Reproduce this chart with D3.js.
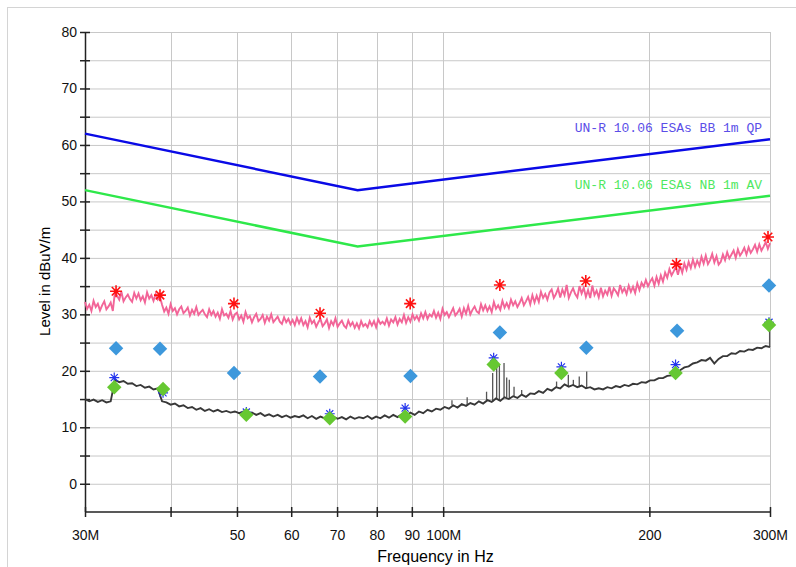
<!DOCTYPE html>
<meta charset="utf-8">

<style type="text/css">

    body {
        margin: 0;
        background: #fff;
        font-family: "Liberation Sans", Arial, sans-serif;
    }

    .grid line {
        stroke: #c8c8c8;
        stroke-width: 1;
    }

    .axis path.domain {
        stroke: #222;
        stroke-width: 1.5;
    }

    .axis line {
        stroke: #222;
        stroke-width: 1.5;
    }

    .axis text {
        font-size: 14px;
        fill: #111;
    }

    .limit-label {
        font-family: "Liberation Mono", "DejaVu Sans Mono", monospace;
        font-size: 13px;
    }

</style>

<body>
</body>

<script src="https://cdn.jsdelivr.net/npm/d3@7"></script>

<script>

// sweep 30M..300M, log spaced readings (MHz)
var sweepStart = 30,
    sweepStop = 300;

// peak trace (pink)
var peakTrace = [
    32.2, 31.0, 31.7, 30.6, 32.4, 31.3, 31.9, 30.7, 31.6, 32.3, 30.9, 31.4, 32.1, 30.6,
    34.0,
    33.3, 32.6, 34.0, 32.3, 33.0, 33.5, 32.7, 32.2, 33.8, 32.8, 33.7, 32.5, 33.2, 32.1, 33.9, 32.8, 33.4, 32.4, 33.6, 32.6, 33.1,
    31.7, 30.5, 31.2, 30.1, 31.8, 30.6, 31.1, 30.0, 30.9, 31.4, 30.2, 30.6, 31.2, 29.8, 30.8, 30.1, 31.3, 29.9,
    30.4, 30.8, 30.0, 29.5, 30.9, 29.9, 30.6, 29.6, 30.3, 29.2, 30.9, 29.8, 30.1, 29.4, 30.6, 29.1, 30.0,
    30.3, 29.1, 29.8, 28.7, 30.4, 29.3, 29.7, 28.6, 29.5, 30.1, 28.8, 29.2, 29.9, 28.5, 29.6,
    28.9, 30.0, 28.6, 29.1, 29.6, 28.7, 28.3, 29.5, 28.6, 29.2, 28.3, 29.0, 28.1, 29.4, 28.4,
    29.3, 28.1, 28.8, 27.7, 29.4, 28.4, 28.9, 27.8, 28.6, 29.2, 27.9, 28.4, 29.1, 27.6, 28.8, 28.1, 29.3,
    27.8, 28.4, 28.9, 28.0, 27.6, 28.9, 28.0, 28.6, 27.6, 28.4, 27.5, 28.8, 27.9, 28.3, 27.7, 28.8,
    28.0, 28.8, 27.7, 29.1, 28.3, 28.7, 28.2, 29.3, 28.0, 29.1, 28.6, 29.5, 28.2, 29.2, 28.6,
    29.9, 28.5, 29.5, 28.7, 30.0, 29.1, 29.7, 28.9, 30.2, 29.3, 30.4, 29.2, 30.0, 29.6,
    30.6, 29.4, 30.3, 29.2, 31.0, 29.9, 30.4, 29.5, 30.3, 31.1, 29.8, 30.3, 31.0, 29.6,
    31.1, 30.1, 31.5, 30.0, 30.8, 31.4, 30.5, 30.2, 31.8, 30.7, 31.6, 30.6, 31.4, 30.4, 32.2, 31.0, 31.6, 30.8,
    32.4, 31.2, 32.0, 31.1, 32.6, 31.6, 32.3, 31.3, 32.0, 32.9, 31.6, 32.3, 33.1, 31.8,
    33.4, 32.1, 33.3, 32.2, 34.0, 32.9, 33.6, 32.6, 33.9, 34.4, 32.9, 33.6, 34.6, 33.0,
    34.4, 33.4, 35.2, 32.9, 33.9, 34.6, 33.6, 33.0, 35.0, 33.7, 34.7, 33.1, 34.3, 32.9, 35.1, 33.4, 34.2, 33.0,
    34.7, 33.2, 34.2, 33.5, 34.9, 33.3, 34.6, 34.1, 33.4, 35.2, 33.9, 34.6, 33.6, 35.1, 34.0, 34.9, 33.8, 35.5,
    34.3, 35.6, 34.9, 36.1, 35.0, 35.8, 36.4, 35.1, 36.6, 35.4,
    36.9, 35.8, 37.4, 36.5, 38.0, 36.9, 37.6, 38.4, 37.0, 38.6,
    37.4, 39.0, 37.9, 39.3, 38.2, 39.7, 38.4, 39.5,
    38.6, 40.2, 39.0, 40.4, 38.9, 39.6, 40.7, 39.2, 40.3, 38.8,
    39.3, 40.6, 39.6, 41.0, 39.9, 40.6, 41.3, 40.0, 41.5, 40.4, 41.0, 41.8,
    40.6, 41.9, 40.9, 41.5, 42.3, 41.1, 42.4, 41.3, 42.0, 42.8, 41.6, 42.6
];

// average trace (dark grey)
var avgTrace = [
    15.0, 14.6, 14.9, 14.5, 14.8, 14.4, 14.6,
    18.4,
    18.0, 18.2, 17.7, 17.8, 17.3, 17.5, 17.0, 17.2, 16.7, 16.9,
    14.6,
    14.4, 14.0, 14.2, 13.7, 13.9, 13.4, 13.6, 13.1, 13.4, 12.9, 13.2, 12.8, 13.1, 12.7, 12.9, 12.6, 12.8,
    12.5, 12.8, 12.3, 12.6, 12.2, 12.5, 12.0, 12.3, 11.9, 12.2, 11.8, 12.1, 11.7, 12.0, 11.8,
    12.1, 11.6, 12.0, 11.5, 11.9, 11.6, 11.4, 11.9, 11.5, 11.8, 11.4, 11.9, 11.5, 11.8, 11.6, 12.0, 11.5, 11.9, 11.6, 12.1, 11.7, 12.2, 11.8, 12.3,
    12.0, 12.6, 12.2, 12.8, 12.5, 13.1, 12.8, 13.3, 13.1,
    13.6, 13.3, 13.9, 13.5, 14.1, 13.8, 14.3, 14.0, 14.6, 14.2, 14.8, 14.5, 15.1, 14.7, 15.3, 15.0, 15.5, 15.2, 15.8, 15.4, 16.0,
    15.9, 16.4, 16.1, 16.8, 16.5, 17.1, 16.9,
    17.6, 17.2, 17.5, 17.1, 17.4, 16.9, 17.1, 16.7, 16.9,
    16.7, 17.1, 16.9, 17.3, 17.1, 17.5, 17.3, 17.7, 17.6, 18.0, 17.9, 18.3,
    18.3, 18.7, 18.7, 19.1, 19.2,
    19.8, 20.1, 20.6, 20.8, 21.3, 21.5,
    21.9, 21.8, 22.3, 21.3, 22.1,
    22.6, 22.6, 23.1, 23.0, 23.5, 23.4, 23.8, 23.7, 24.1, 24.0, 24.4, 24.2
];

// narrow spikes on the average trace
var spikeFreq = [103.0, 108.4, 115.7, 118.1, 119.7, 120.8, 122.7, 123.8, 124.9, 126.9, 130.2, 146.4, 152.3, 154.9, 158.0, 162.0, 299.6];
var spikeTop = [14.8, 15.3, 16.3, 19.6, 20.8, 21.1, 21.4, 18.8, 18.4, 17.2, 16.6, 18.1, 19.3, 18.4, 19.0, 19.9, 28.0];

// limit lines
var limitFreq = [30, 75, 300];
var limitQP = [62, 52, 61];
var limitAV = [52, 42, 51];
var limitNames = ["UN-R 10.06 ESAs BB 1m QP", "UN-R 10.06 ESAs NB 1m AV"];

// final measurement markers
var peakFreq = [33.3, 38.6, 49.5, 66.1, 89.5, 121, 161.5, 219, 298];
var peakVal = [34.1, 33.4, 31.9, 30.2, 31.9, 35.2, 35.9, 38.9, 43.7];

var qpFreq = [33.3, 38.6, 49.5, 66.1, 89.6, 121, 161.8, 219.5, 299];
var qpVal = [24.0, 23.9, 19.6, 19.0, 19.1, 26.8, 24.1, 27.1, 35.1];

var avFreq = [33.1, 39.0, 51.6, 68.3, 88.0, 118.5, 148.8, 218.4, 299];
var avVal = [17.1, 16.8, 12.2, 11.6, 11.9, 21.1, 19.6, 19.6, 28.1];
var avPeakVal = [18.8, 16.1, 12.7, 12.4, 13.4, 22.3, 20.7, 21.1, 28.6];

// axis ticks
var xTicks = [30, 40, 50, 60, 70, 80, 90, 100, 200, 300];
var xTickLabels = ["30M", "", "50", "60", "70", "80", "90", "100M", "200", "300M"];
var yTicks = [0, 10, 20, 30, 40, 50, 60, 70, 80];
var yMinor = [5, 15, 25, 35, 45, 55, 65, 75];

var margin = {top: 32, right: 26, bottom: 55, left: 85};

var w = 796 - margin.left - margin.right,
    h = 567 - margin.top - margin.bottom;

var root = d3.select("body").append("svg")
    .attr("width", 796)
    .attr("height", 567);

// light frame of the page
root.append("rect")
    .attr("x", 7.5)
    .attr("y", 7.5)
    .attr("width", 900)
    .attr("height", 900)
    .attr("fill", "none")
    .attr("stroke", "#d4d4d4");

var svg = root.append("g")
    .attr("transform", "translate(" + margin.left + "," + margin.top + ")");

var x = d3.scaleLog()
    .domain([sweepStart, sweepStop])
    .range([0, w]);

var y = d3.scaleLinear()
    .domain([-5, 80])
    .range([h, 0]);

// frequency of each sweep reading
function sweepFreq(i, n) {
    return sweepStart * Math.pow(sweepStop / sweepStart, i / (n - 1));
}

// trace reading nearest to a frequency
function traceAt(trace, f) {
    var n = trace.length;
    var i = Math.round(Math.log(f / sweepStart) / Math.log(sweepStop / sweepStart) * (n - 1));
    return trace[Math.max(0, Math.min(n - 1, i))];
}

// grid
var grid = svg.append("g").attr("class", "grid");

grid.selectAll(".hgrid")
    .data(yTicks.concat(yMinor))
    .enter()
    .append("line")
    .attr("x1", 0)
    .attr("x2", w)
    .attr("y1", function(d) { return y(d) + 0.5; })
    .attr("y2", function(d) { return y(d) + 0.5; });

grid.selectAll(".vgrid")
    .data(xTicks.slice(1))
    .enter()
    .append("line")
    .attr("x1", function(d) { return Math.round(x(d)) + 0.5; })
    .attr("x2", function(d) { return Math.round(x(d)) + 0.5; })
    .attr("y1", 0)
    .attr("y2", h);

// axes
var xaxis = d3.axisBottom(x)
    .tickValues(xTicks)
    .tickFormat(function(d, i) { return xTickLabels[i]; })
    .tickSize(5)
    .tickPadding(13);

var gx = svg.append("g")
    .attr("class", "axis")
    .attr("transform", "translate(0," + h + ")")
    .call(xaxis);
gx.selectAll(".tick line").attr("y1", -5);
gx.selectAll(".domain").attr("d", "M0,0H" + w);

var yaxis = d3.axisLeft(y)
    .tickValues(yTicks.concat(yMinor))
    .tickFormat(function(d) { return d % 10 == 0 ? d : ""; })
    .tickSize(5)
    .tickPadding(3);

var gy = svg.append("g")
    .attr("class", "axis")
    .call(yaxis);
gy.selectAll(".tick line").attr("x1", 5);
gy.selectAll(".domain").attr("d", "M0.5," + h + "V0");

svg.append("text")
    .attr("x", w / 2 + 8)
    .attr("y", h + 50)
    .attr("text-anchor", "middle")
    .style("font-size", "16px")
    .text("Frequency in Hz");

svg.append("text")
    .attr("transform", "translate(-35," + (y(30) - 33) + ") rotate(-90)")
    .attr("text-anchor", "middle")
    .style("font-size", "15px")
    .text("Level in dBuV/m");

// limit lines
var limitLine = d3.line()
    .x(function(d) { return x(d[0]); })
    .y(function(d) { return y(d[1]); });

svg.append("path")
    .datum(d3.zip(limitFreq, limitQP))
    .attr("d", limitLine)
    .attr("fill", "none")
    .attr("stroke", "#0a0ae6")
    .attr("stroke-width", 2.5);

svg.append("path")
    .datum(d3.zip(limitFreq, limitAV))
    .attr("d", limitLine)
    .attr("fill", "none")
    .attr("stroke", "#2ee84a")
    .attr("stroke-width", 2.5);

svg.append("text")
    .attr("class", "limit-label")
    .attr("x", w - 8)
    .attr("y", y(61) - 7)
    .attr("text-anchor", "end")
    .attr("fill", "#5a4ee8")
    .text(limitNames[0]);

svg.append("text")
    .attr("class", "limit-label")
    .attr("x", w - 8)
    .attr("y", y(51) - 7)
    .attr("text-anchor", "end")
    .attr("fill", "#4ee860")
    .text(limitNames[1]);

// traces
var traceLine = d3.line()
    .x(function(d, i, arr) { return x(sweepFreq(i, arr.length)); })
    .y(function(d) { return y(d); });

svg.append("path")
    .datum(peakTrace)
    .attr("d", traceLine)
    .attr("fill", "none")
    .attr("stroke", "#f26598")
    .attr("stroke-width", 1.9);

svg.selectAll(".spike")
    .data(d3.zip(spikeFreq, spikeTop))
    .enter()
    .append("line")
    .attr("class", "spike")
    .attr("x1", function(d) { return x(d[0]); })
    .attr("x2", function(d) { return x(d[0]); })
    .attr("y1", function(d) { return y(traceAt(avgTrace, d[0])); })
    .attr("y2", function(d) { return y(d[1]); })
    .attr("stroke", "#555")
    .attr("stroke-width", 1.3);

svg.append("path")
    .datum(avgTrace)
    .attr("d", traceLine)
    .attr("fill", "none")
    .attr("stroke", "#383838")
    .attr("stroke-width", 1.9);

// asterisk shape
function asterisk(r) {
    var p = "";
    for (var k = 0; k < 4; k++) {
        var a = k * Math.PI / 4;
        var dx = r * Math.cos(a), dy = r * Math.sin(a);
        p += "M" + (-dx) + "," + (-dy) + "L" + dx + "," + dy;
    }
    return p;
}

var diamond = d3.symbol().type(d3.symbolSquare).size(105);

// QP diamonds
svg.selectAll(".qp")
    .data(d3.zip(qpFreq, qpVal))
    .enter()
    .append("path")
    .attr("class", "qp")
    .attr("d", diamond)
    .attr("transform", function(d) { return "translate(" + x(d[0]) + "," + y(d[1]) + ") rotate(45)"; })
    .attr("fill", "#3d98dc");

// small blue asterisks under the AV diamonds
svg.selectAll(".avpk")
    .data(d3.zip(avFreq, avPeakVal))
    .enter()
    .append("path")
    .attr("class", "avpk")
    .attr("d", asterisk(5))
    .attr("transform", function(d) { return "translate(" + x(d[0]) + "," + y(d[1]) + ")"; })
    .attr("stroke", "#2233ee")
    .attr("stroke-width", 1.2);

// AV diamonds
svg.selectAll(".av")
    .data(d3.zip(avFreq, avVal))
    .enter()
    .append("path")
    .attr("class", "av")
    .attr("d", diamond)
    .attr("transform", function(d) { return "translate(" + x(d[0]) + "," + y(d[1]) + ") rotate(45)"; })
    .attr("fill", "#66c832");

// peak asterisks
svg.selectAll(".pk")
    .data(d3.zip(peakFreq, peakVal))
    .enter()
    .append("path")
    .attr("class", "pk")
    .attr("d", asterisk(6))
    .attr("transform", function(d) { return "translate(" + x(d[0]) + "," + y(d[1]) + ")"; })
    .attr("stroke", "#ff1010")
    .attr("stroke-width", 1.6);

</script>
